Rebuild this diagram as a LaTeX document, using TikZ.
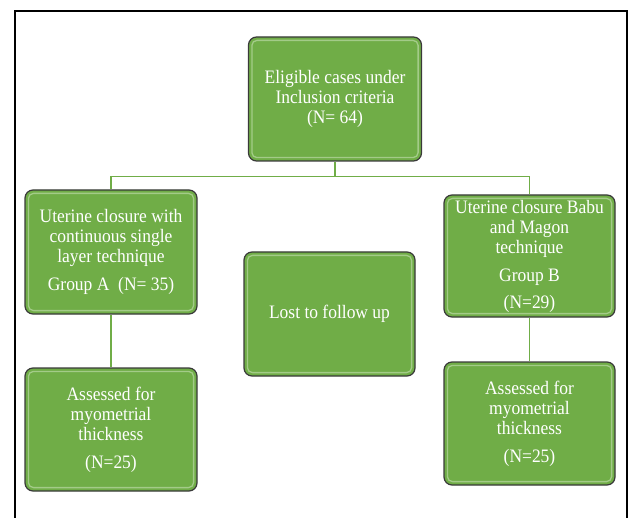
\documentclass[tikz,border=0pt]{standalone}
\usepackage{fontspec}
\setmainfont{Liberation Serif}[FakeStretch=0.92]
\definecolor{boxgreen}{HTML}{70AD47}
\definecolor{boxedge}{HTML}{3A3A3A}
\definecolor{hilite}{HTML}{C5E0B4}
\definecolor{linkgreen}{HTML}{70AD47}
\begin{document}
\begin{tikzpicture}[x=1pt,y=1pt,
  gbox/.style={draw=boxedge, line width=1.2pt, fill=boxgreen, rounded corners=8pt,
    text=white, align=center, inner sep=0pt,
    font=\fontsize{19}{20}\selectfont},
  link/.style={draw=linkgreen, line width=1.6pt},
  frame/.style={draw=black, line width=1.2pt}]
\useasboundingbox (0,0) rectangle (628,-518);
\draw[frame] (15,-520) -- (15,-11) -- (627,-11) -- (627,-520);

\node[gbox, minimum width=173pt, minimum height=124pt] (top) at (335,-99)
  {Eligible cases under\\Inclusion criteria\\(N= 64)};
\node[gbox, minimum width=172pt, minimum height=124pt] (a) at (111,-252)
  {Uterine closure with\\continuous single\\layer technique\\[8pt]Group A\ \ (N= 35)};
\node[gbox, minimum width=171pt, minimum height=122pt] (b) at (529.5,-256)
  {Uterine closure Babu\\and Magon\\technique\\[8pt]Group B\\[7pt](N=29)};
\node[gbox, minimum width=171pt, minimum height=124pt] (lost) at (329.5,-314)
  {Lost to follow up};
\node[gbox, minimum width=172pt, minimum height=123pt] (a2) at (111,-429.5)
  {Assessed for\\myometrial\\thickness\\[8pt](N=25)};
\node[gbox, minimum width=171pt, minimum height=123pt] (b2) at (529.5,-423.5)
  {Assessed for\\myometrial\\thickness\\[8pt](N=25)};

\foreach \n in {top,a,b,lost,a2,b2}{
  \draw[hilite, line width=1.3pt, opacity=0.6, rounded corners=5pt]
    ([shift={(4,-4)}]\n.north west) rectangle ([shift={(-4,4)}]\n.south east);
}

\coordinate (split) at ([yshift=-15pt]top.south);
\draw[link] (top.south) -- (split) -| (a.north);
\draw[link] (split) -| (b.north);
\draw[link] (a.south) -- (a2.north);
\draw[link] (b.south) -- (b2.north);
\end{tikzpicture}
\end{document}
